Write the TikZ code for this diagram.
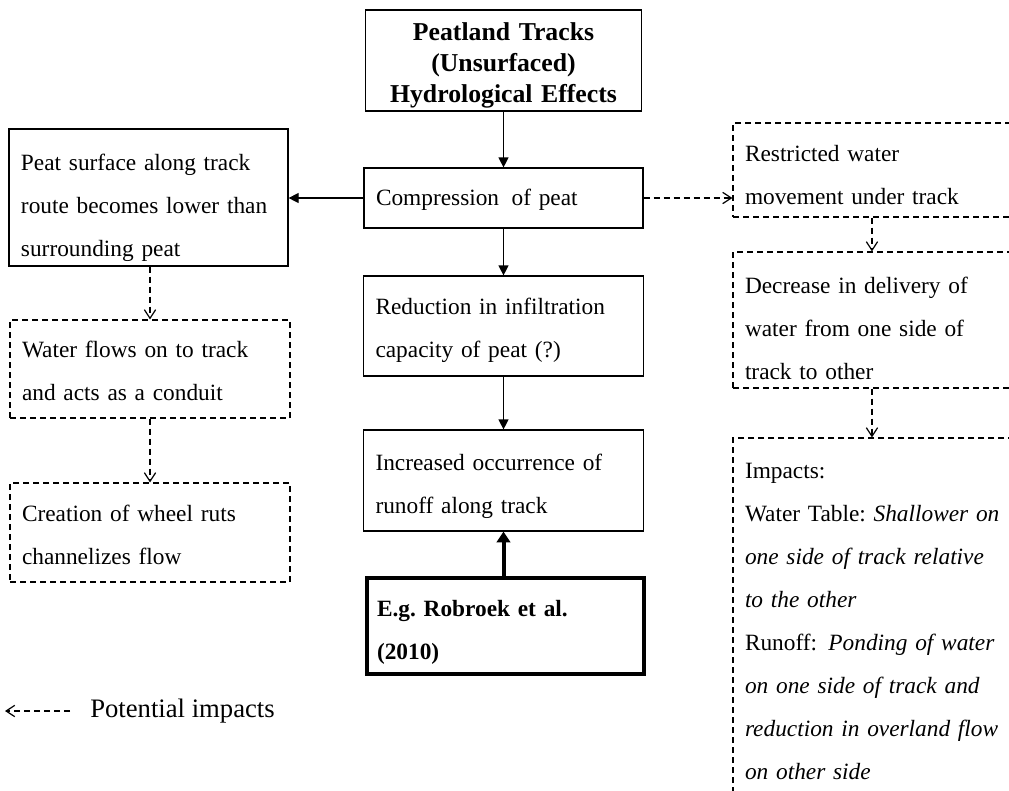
\documentclass[tikz,border=0pt]{standalone}
\usepackage{fontspec}
\setmainfont{Liberation Serif}
\usetikzlibrary{arrows.meta,calc}
\frenchspacing
\begin{document}
\begin{tikzpicture}[x=0.75pt,y=-0.75pt,
  boxbase/.style={draw, line width=0.9pt, rectangle, inner xsep=9pt, inner ysep=0pt,
    align=left, font=\fontsize{17.5}{32.25}\selectfont, anchor=center},
  % first-line height / last-line depth fix where the lines sit in a box
  lift/.style={execute at begin node={\rule{0pt}{#1}},
    execute at end node={\rule[-5pt]{0pt}{5pt}}},
  solidbox/.style={boxbase},
  dashbox/.style={boxbase, dash pattern=on 4.5pt off 3pt},
  heavybox/.style={boxbase, line width=3pt, inner xsep=7.5pt,
    font=\fontsize{17.5}{32.25}\selectfont\bfseries},
  titlebox/.style={boxbase, align=center, font=\fontsize{19.3}{23.6}\selectfont\bfseries},
  sz/.style n args={3}{minimum width=#1, minimum height=#2, text width=#3},
  flow/.style={draw, line width=0.9pt, -{Triangle[length=7.5pt,width=7.5pt]}},
  heavyflow/.style={draw, line width=3pt, -{Triangle[length=8pt,width=10pt]}},
  maybe/.style={draw, line width=0.9pt, dash pattern=on 4.5pt off 3pt,
    -{Straight Barb[length=6.5pt,width=8.5pt,line width=0.9pt]}},
]
\useasboundingbox (0,0) rectangle (1009,790);
\fill[white] (0,0) rectangle (1009,790);
\clip (0,0) rectangle (1009,790);

% central chain
\node[titlebox, lift=21.5pt, sz={207pt}{75.75pt}{189pt}] (title) at (503.5,60.5)
  {Peatland Tracks\\(Unsurfaced)\\Hydrological Effects};
\node[solidbox, lift=15.5pt, sz={209.25pt}{45pt}{191.25pt}] (compress) at (503.5,198)
  {Compression\hspace{0.2em} of peat};
\node[solidbox, lift=19.25pt, sz={210pt}{75pt}{192pt}] (reduct) at (503.5,326)
  {Reduction in infiltration\\capacity of peat (?)};
\node[solidbox, lift=21.5pt, sz={210pt}{75.75pt}{192pt}] (increased) at (503.5,480.5)
  {Increased occurrence of\\runoff along track};
\node[heavybox, lift=22.25pt, sz={207.75pt}{72pt}{192.75pt}] (robroek) at (505.5,626)
  {E.g. Robroek et al.\\(2010)};

% left branch
\node[solidbox, lift=28.25pt, sz={209.25pt}{102.75pt}{191.25pt}] (lower) at (148.5,197.5)
  {Peat surface along track\\route becomes lower than\\surrounding peat};
\node[dashbox, lift=19.25pt, sz={210pt}{73.5pt}{192pt}] (conduit) at (150,369)
  {Water flows on to track\\and acts as a conduit};
\node[dashbox, lift=20pt, sz={210pt}{74.25pt}{192pt}] (ruts) at (150,532.5)
  {Creation of wheel ruts\\channelizes flow};

% right branch
\node[dashbox, lift=23.75pt, sz={230.25pt}{70.5pt}{212.25pt}] (restricted) at (886.5,170)
  {Restricted water\\movement under track};
\node[dashbox, lift=29pt, sz={230.25pt}{102pt}{212.25pt}] (delivery) at (886.5,320)
  {Decrease in delivery of\\water from one side of\\track to other};
\node[dashbox, lift=15.5pt, sz={230.25pt}{275.25pt}{212.25pt}] (impacts) at (886.5,621.5)
  {Impacts:\\
   Water Table: \textit{Shallower on}\\
   \textit{one side of track relative}\\
   \textit{to the other}\\
   Runoff:\hspace{0.15em} \textit{Ponding of water}\\
   \textit{on one side of track and}\\
   \textit{reduction in overland flow}\\
   \textit{on other side}};

% legend
\node[anchor=west, inner sep=0pt, font=\fontsize{20}{24}\selectfont] (legend) at (90,711)
  {Potential impacts};
\coordinate (legtip) at (5,711);

% connectors
\draw[flow] (title.south) -- (compress.north);
\draw[flow] (compress.south) -- (reduct.north);
\draw[flow] (reduct.south) -- (increased.north);
\draw[heavyflow] (robroek.north -| increased.south) -- (increased.south);
\draw[flow] (compress.west) -- (lower.east |- compress.west);
\draw[maybe] (lower.south -| conduit.north) -- (conduit.north);
\draw[maybe] (conduit.south) -- (ruts.north);
\draw[maybe] (compress.east) -- (restricted.west |- compress.east);
\draw[maybe] ([xshift=-10.9pt]restricted.south) -- ([xshift=-10.9pt]delivery.north);
\draw[maybe] ([xshift=-10.9pt]delivery.south) -- ([xshift=-10.9pt]impacts.north);
\draw[maybe] ([xshift=-15pt]legend.west) -- (legtip);
\end{tikzpicture}
\end{document}
